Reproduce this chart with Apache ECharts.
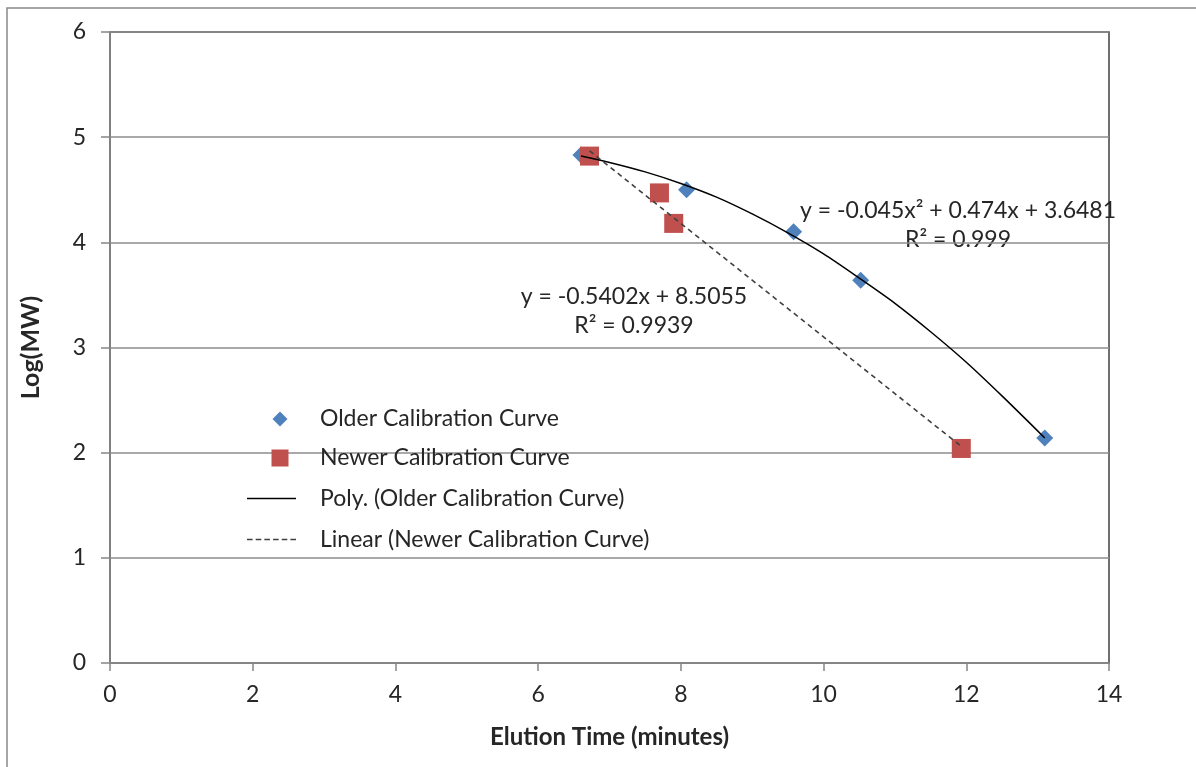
<!DOCTYPE html>
<html><head><meta charset="utf-8">
<script src="https://cdn.jsdelivr.net/npm/echarts@6/dist/echarts.min.js"></script>
<style>html,body{margin:0;padding:0;background:#fff}#c{width:1196px;height:767px}</style>
</head><body><div id="c"></div>
<script>
// Data
const olderX = [6.6, 8.08, 9.58, 10.52, 13.1];
const olderY = [4.83, 4.5, 4.1, 3.64, 2.14];
const newerX = [6.72, 7.7, 7.9, 11.93];
const newerY = [4.82, 4.47, 4.18, 2.04];
// Trendline
const polyX = [6.6, 7, 7.5, 8, 8.5, 9, 9.5, 10, 10.5, 11, 11.5, 12, 12.5, 13.1];
const polyY = [4.82, 4.76, 4.67, 4.56, 4.43, 4.27, 4.09, 3.89, 3.66, 3.42, 3.15, 2.86, 2.54, 2.14];
const linX = [6.72, 11.93];
const linY = [4.87, 2.06];
const seriesNames = ['Older Calibration Curve', 'Newer Calibration Curve', 'Poly. (Older Calibration Curve)', 'Linear (Newer Calibration Curve)'];
const polyEq = 'y = -0.045x² + 0.474x + 3.6481';
const polyR2 = 'R² = 0.999';
const linEq = 'y = -0.5402x + 8.5055';
const linR2 = 'R² = 0.9939';
const xTitle = 'Elution Time (minutes)';
const yTitle = 'Log(MW)';

const zip = (a, b) => a.map((v, i) => [v, b[i]]);
const FONT = 'Lato';
const TXT = '#262626';
const chart = echarts.init(document.getElementById('c'), null, {renderer: 'canvas'});
const dashPath = 'path://M0,0H5.5V1.6H0Z M8.5,0H14V1.6H8.5Z M17,0H22.5V1.6H17Z M25.5,0H31V1.6H25.5Z M34,0H39.5V1.6H34Z M42.5,0H48V1.6H42.5Z';
function leg(name, icon, left, center, w, h, padLeft) {
  return {
    orient: 'vertical', left: left, top: center - h / 2, padding: 0,
    itemWidth: w, itemHeight: h, selectedMode: false,
    textStyle: {fontFamily: FONT, fontSize: 23, color: TXT, lineHeight: h, padding: [0, 0, 0, padLeft]},
    data: [{name: name, icon: icon}]
  };
}
chart.setOption({
  animation: false,
  backgroundColor: '#fff',
  textStyle: {fontFamily: FONT},
  grid: {left: 110, right: 87, top: 32, bottom: 104, show: true, borderColor: '#404040', borderWidth: 1.5, containLabel: false},
  xAxis: {
    type: 'value', min: 0, max: 14, interval: 2,
    name: xTitle, nameLocation: 'middle', nameGap: 62,
    nameTextStyle: {fontFamily: FONT, fontWeight: 'bold', fontSize: 24, color: TXT},
    axisLine: {show: true, onZero: false, lineStyle: {color: '#868686', width: 1.5}},
    axisTick: {show: true, inside: false, length: 8, lineStyle: {color: '#868686', width: 1.5}},
    axisLabel: {fontFamily: FONT, fontSize: 23, color: TXT, margin: 20},
    splitLine: {show: false}
  },
  yAxis: {
    type: 'value', min: 0, max: 6, interval: 1,
    name: yTitle, nameLocation: 'middle', nameGap: 67, nameRotate: 90,
    nameTextStyle: {fontFamily: FONT, fontWeight: 'bold', fontSize: 25, color: TXT},
    axisLine: {show: true, onZero: false, lineStyle: {color: '#868686', width: 1.5}},
    axisTick: {show: true, inside: false, length: 9, lineStyle: {color: '#868686', width: 1.5}},
    axisLabel: {fontFamily: FONT, fontSize: 23, color: TXT, margin: 24},
    splitLine: {show: true, lineStyle: {color: '#8c8c8c', width: 1.5}}
  },
  legend: [
    leg(seriesNames[0], 'diamond', 272.5, 415, 15, 15, 27.5),
    leg(seriesNames[1], 'rect', 271.5, 455, 17, 17, 26.5),
    leg(seriesNames[2], 'path://M0,0H49V1.6H0Z', 247, 494, 49, 14, 19),
    leg(seriesNames[3], dashPath, 247, 535, 49, 14, 19)
  ],
  series: [
    {name: seriesNames[0], type: 'scatter', symbol: 'diamond', symbolSize: 17,
     itemStyle: {color: '#4F81BD', opacity: 1}, data: zip(olderX, olderY), z: 2},
    {name: seriesNames[1], type: 'scatter', symbol: 'rect', symbolSize: 19,
     itemStyle: {color: '#C0504D', opacity: 1}, data: zip(newerX, newerY), z: 3},
    {name: seriesNames[2], type: 'line', symbol: 'none', smooth: 0.3,
     itemStyle: {color: '#000'}, lineStyle: {color: '#000', width: 1.5},
     data: zip(polyX, polyY), z: 4},
    {name: seriesNames[3], type: 'line', symbol: 'none',
     itemStyle: {color: '#404040'}, lineStyle: {color: '#404040', width: 1.6, type: [5, 4]},
     data: zip(linX, linY), z: 4}
  ],
  graphic: [
    {type: 'rect', shape: {x: 7, y: 8, width: 1200, height: 800}, style: {fill: 'none', stroke: '#898989', lineWidth: 1.5}, silent: true, z: -1},
    {type: 'text', x: 958, y: 211, style: {text: polyEq, font: '23px ' + FONT, fill: TXT, textAlign: 'center', textVerticalAlign: 'middle'}},
    {type: 'text', x: 958, y: 240, style: {text: polyR2, font: '23px ' + FONT, fill: TXT, textAlign: 'center', textVerticalAlign: 'middle'}},
    {type: 'text', x: 634, y: 297, style: {text: linEq, font: '23px ' + FONT, fill: TXT, textAlign: 'center', textVerticalAlign: 'middle'}},
    {type: 'text', x: 634, y: 326, style: {text: linR2, font: '23px ' + FONT, fill: TXT, textAlign: 'center', textVerticalAlign: 'middle'}}
  ]
});
</script></body></html>
